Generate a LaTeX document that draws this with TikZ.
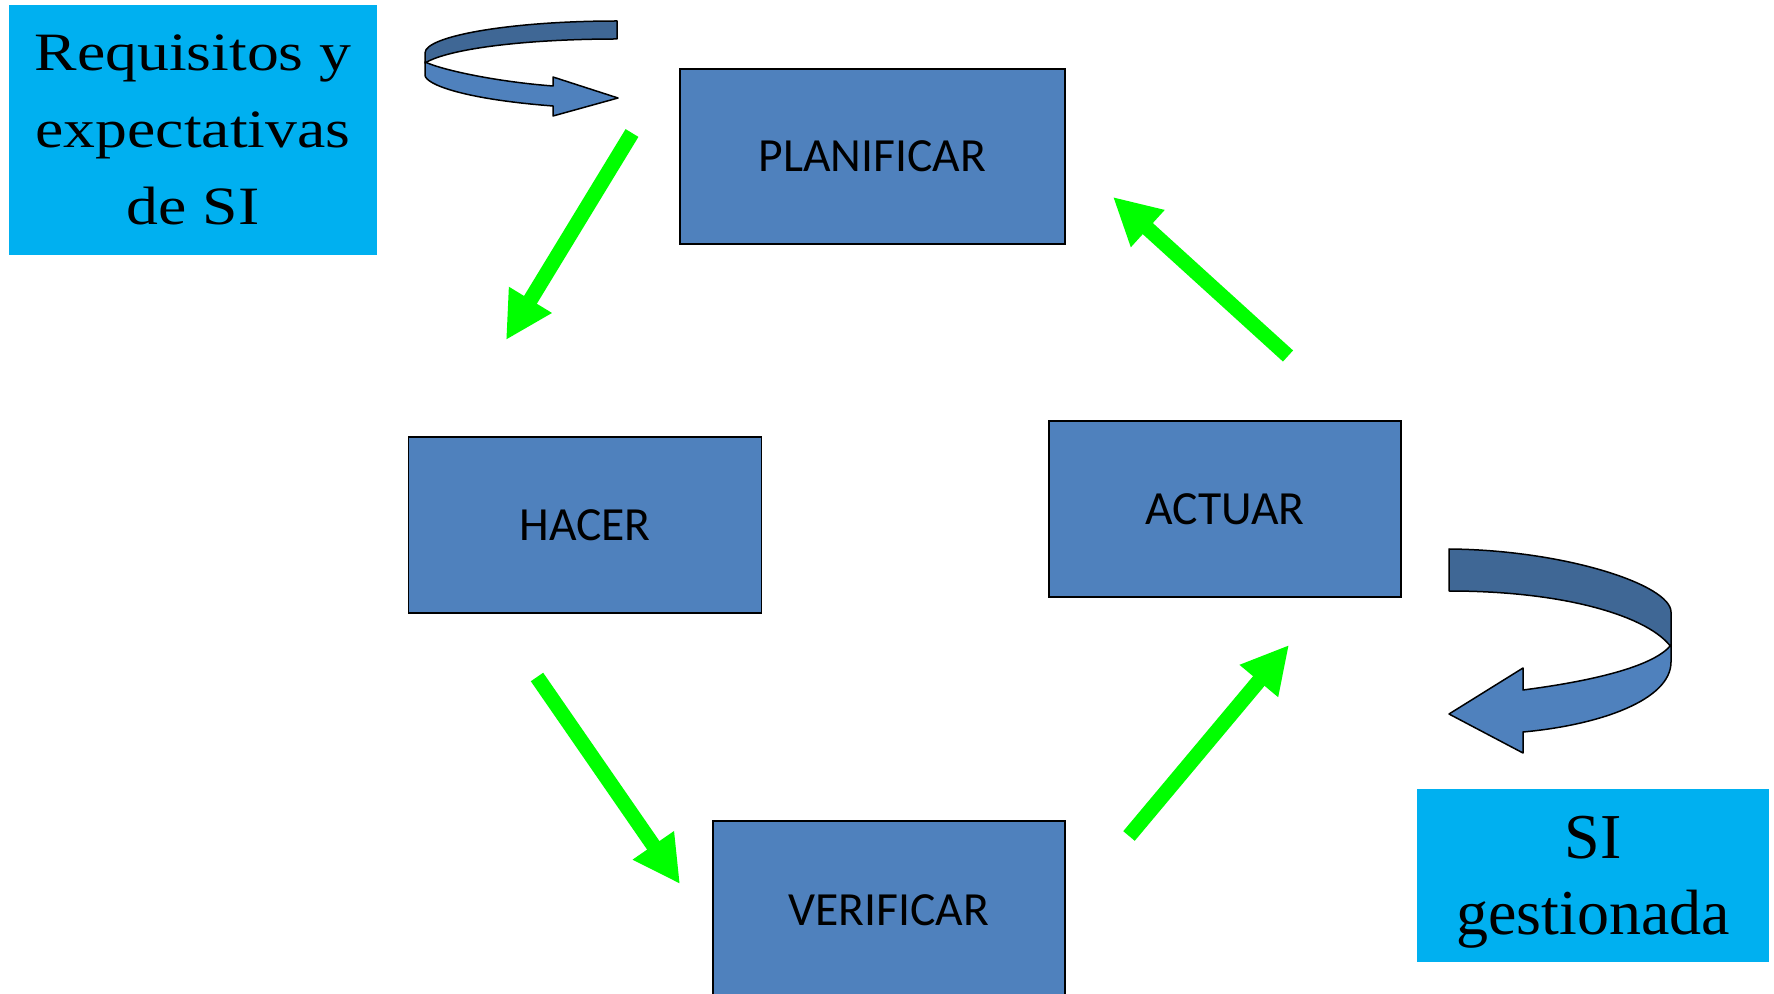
\documentclass[tikz,border=0pt]{standalone}
\usepackage{fontspec}
\setmainfont{Carlito}
\newfontfamily\serifA{Liberation Serif}
\newfontfamily\serifWide[FakeStretch=1.18]{Liberation Serif}
\usetikzlibrary{arrows.meta}
\definecolor{boxblue}{HTML}{4F81BD}
\definecolor{ribbondark}{HTML}{3F6795}
\definecolor{skyblue}{HTML}{00B0F0}
\definecolor{brightgreen}{HTML}{00FF00}

\begin{document}
\begin{tikzpicture}[x=0.5pt,y=-0.5pt,
  stage/.style={draw=black,line width=0.85pt,fill=boxblue,inner sep=0pt,outer sep=0pt,
    font=\fontsize{23.8}{28}\selectfont},
  info/.style={fill=skyblue,inner sep=0pt,outer sep=0pt,align=center,text depth=0pt},
  flow/.style={color=brightgreen,line width=7.5pt,-{Triangle[width=23.5pt,length=23.5pt]}},
  ribbonback/.style={draw=black,line width=0.75pt,fill=ribbondark,line join=round},
  ribbonfront/.style={draw=black,line width=0.75pt,fill=boxblue,line join=round}]

\useasboundingbox (0,0) rectangle (1774,994);

% input and output boxes
\node[info, minimum width=184pt, minimum height=125pt,
  font=\serifWide\fontsize{27}{38.5}\selectfont] (req) at (193,130)
  {Requisitos y\\expectativas\\de SI};
\node[info, minimum width=176pt, minimum height=86.5pt,
  font=\serifA\fontsize{32}{38}\selectfont] (sig) at (1593,875.5)
  {SI\\gestionada};

% PDCA stages
\node[stage, minimum width=192.5pt, minimum height=87.5pt] (plan) at (872.5,156.5) {PLANIFICAR};
\node[stage, minimum width=176.5pt, minimum height=88pt] (hacer) at (585,525) {HACER};
\node[stage, minimum width=176pt, minimum height=88pt] (actuar) at (1225,509) {ACTUAR};
\node[stage, minimum width=176pt, minimum height=89pt] (verif) at (889,910) {VERIFICAR};

% ribbon arrow entering the cycle
\draw[ribbonback] (617,21) .. controls (511,21) and (425,36) .. (425,53)
  -- (425,63) .. controls (450,48) and (530,39) .. (617,39) -- cycle;
\draw[ribbonfront] (425,62) -- (425,75) .. controls (425,84) and (462,99) .. (553,106)
  -- (553,116) -- (618,98) -- (553,77) -- (553,86)
  .. controls (500,82) and (445,71) .. (425,62) -- cycle;

% ribbon arrow leaving the cycle
\draw[ribbonback] (1449,549) .. controls (1565,550) and (1671,585) .. (1671,612)
  -- (1671,647) .. controls (1650,618) and (1570,591) .. (1449,591) -- cycle;
\draw[ribbonfront] (1671,645) -- (1671,662) .. controls (1671,700) and (1600,725) .. (1523,732)
  -- (1523,753) -- (1449,714) -- (1523,668) -- (1523,690)
  .. controls (1600,680) and (1655,665) .. (1671,645) -- cycle;

% green cycle arrows
\coordinate (g1s) at (632,133);  \coordinate (g1e) at (506,340);
\coordinate (g2s) at (537,677);  \coordinate (g2e) at (680,884);
\coordinate (g3s) at (1129,836); \coordinate (g3e) at (1289,645);
\coordinate (g4s) at (1288,356); \coordinate (g4e) at (1113,197);
\draw[flow] (g1s) -- (g1e);
\draw[flow] (g2s) -- (g2e);
\draw[flow] (g3s) -- (g3e);
\draw[flow] (g4s) -- (g4e);
\end{tikzpicture}
\end{document}
